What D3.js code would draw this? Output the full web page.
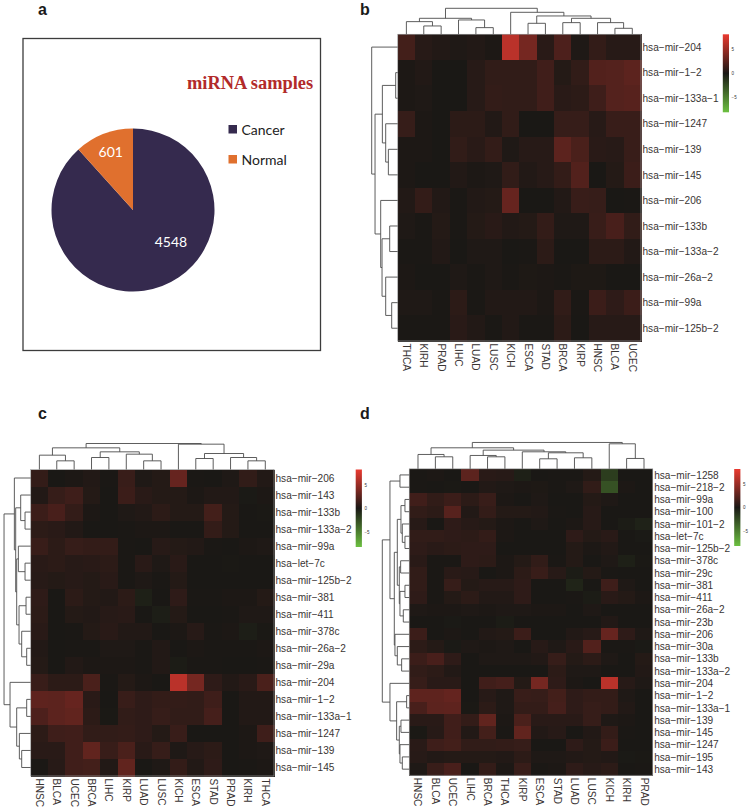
<!DOCTYPE html>
<html>
<head>
<meta charset="utf-8">
<script src="https://cdn.jsdelivr.net/npm/d3@7"></script>
<style>
body { margin:0; background:#fff; }
svg { display:block; }
.rowLabel, .colLabel { font-family:"Liberation Sans",Arial,sans-serif; font-size:10.1px; fill:#3a3534; }
.panelLetter { font-family:"Liberation Sans",Arial,sans-serif; font-size:16px; font-weight:bold; fill:#1a1a1a; }
.tree { fill:none; stroke:#4c4c4c; stroke-width:0.9; }
.cell { shape-rendering:crispEdges; }
</style>
</head>
<body>
<svg id="fig" width="750" height="809"></svg>
<script>
// panel a
var pieNames = ["Cancer","Normal"];
var pieValues = [4548,601];

// panel b
var colsB = ["THCA","KIRH","PRAD","LIHC","LUAD","LUSC","KICH","ESCA","STAD","BRCA","KIRP","HNSC","BLCA","UCEC"];
var rowsB = ["hsa-mir-204","hsa-mir-1-2","hsa-mir-133a-1","hsa-mir-1247","hsa-mir-139","hsa-mir-145","hsa-mir-206","hsa-mir-133b","hsa-mir-133a-2","hsa-mir-26a-2","hsa-mir-99a","hsa-mir-125b-2"];
var valuesB = [
[1.6,.5,.3,.2,.3,.1,6.3,3.6,.6,2.0,.2,1.0,.5,.5],
[.1,.3,0,0,.5,.9,.9,.9,1.5,.4,.9,2.2,2.3,2.6],
[.1,.2,0,0,.5,1,.9,.9,1.5,.6,.7,1.4,2.3,2.4],
[1.1,.1,0,.7,.7,.3,.9,0,0,1.1,1.1,.5,1.2,1.2],
[.1,.1,0,.9,.6,1.0,.2,.5,.5,2.6,1.9,.6,.5,1.2],
[.1,0,0,.3,.1,.2,.9,.3,.5,1.0,2.2,0,.4,1.3],
[.3,1.0,.3,.05,.3,.4,3.0,0,0,.3,1.2,1.1,0,.05],
[.2,.05,.4,.05,.4,.6,.3,.4,1.0,.2,.2,1.2,1.8,.9],
[.05,.05,.3,0,.2,.2,0,.05,.7,0,0,.7,.7,.3],
[.1,0,0,.2,.05,.2,.05,.15,.1,.05,.15,.15,0,0],
[.2,.2,.05,.7,.05,.3,.3,.3,.1,.9,.05,1.3,.8,1.3],
[.05,.05,.05,.6,.3,.05,.3,.05,.05,.7,0,.5,.5,.5]
];
var colTreeB = [78,[48,[38,0,[25,1,2]],[43,3,[20,4,5]]],[66,6,[55,[33,7,8],[48,[35,9,10],[35,11,[18,12,13]]]]]];
var rowTreeB = [78,0,[68,[46,[6,1,2],[36,3,[28,4,5]]],[51,6,[47,[24,7,8],[36,9,[18,10,11]]]]]];

// panel c
var colsC = ["HNSC","BLCA","UCEC","BRCA","LIHC","KIRP","LUAD","LUSC","KICH","ESCA","STAD","PRAD","KIRH","THCA"];
var rowsC = ["hsa-mir-206","hsa-mir-143","hsa-mir-133b","hsa-mir-133a-2","hsa-mir-99a","hsa-let-7c","hsa-mir-125b-2","hsa-mir-381","hsa-mir-411","hsa-mir-378c","hsa-mir-26a-2","hsa-mir-29a","hsa-mir-204","hsa-mir-1-2","hsa-mir-133a-1","hsa-mir-1247","hsa-mir-139","hsa-mir-145"];
var valuesC = [
[1.0,0,.1,.3,.05,1.2,.2,.4,3.0,.05,0,.2,.9,.3],
[.3,1.1,1.4,.4,0,1.3,.6,.4,.4,.1,.3,.3,-.1,.1],
[1.3,1.8,1.0,.1,0,.2,.3,.7,.4,.4,1.6,.4,0,-.05],
[.7,.6,.3,0,0,.05,.1,.1,0,0,1.0,.4,0,0],
[1.2,.7,1.1,1.0,1.0,.05,0,.5,.4,.3,.05,0,.1,.2],
[.6,.7,.5,.6,.7,.05,.6,.2,.6,0,0,-.05,0,0],
[.5,.4,.5,.4,.6,.05,.2,.05,.4,0,0,0,0,0],
[.8,0,.7,.4,.3,.7,-.4,0,.8,.05,.05,.1,.1,.4],
[.7,0,.4,.3,.5,.6,0,-.3,.4,0,0,.05,.2,.2],
[.6,0,.05,.4,.6,.3,.3,0,.1,.5,.05,.1,-.3,-.05],
[.3,0,.05,.05,.2,.2,.05,.3,0,.1,.05,.05,.05,.1],
[.4,0,.3,.1,.1,.1,.05,.3,-.2,.05,.05,0,0,.05],
[1.2,.7,.7,1.9,.05,.4,.1,0,6.3,3.6,.8,.3,.6,1.9],
[2.7,2.6,3.0,.6,0,1.2,.8,1.0,1.0,.9,1.4,0,.3,.3],
[2.0,2.6,2.8,.7,-.05,.9,.8,1.1,.9,.9,1.7,0,.3,.3],
[.7,1.4,1.5,.9,.9,1.0,.8,.4,1.2,0,0,0,.1,1.4],
[.6,.6,1.5,2.8,1.2,1.9,.6,1.1,.2,.5,.7,0,.1,.2],
[.05,.5,1.5,1.6,.3,2.8,0,.2,1.0,.3,.8,0,.05,.1]
];
var colTreeC = [78,[65,[43,0,[26,1,2]],[53,[36,3,4],[46,5,[26,6,7]]]],[76,8,[48,[33,9,10],[36,11,[26,12,13]]]]];
var rowTreeC = [80,[49,0,[45,[30,1,[17,2,3]],[42,[37,4,[17,5,6]],[35,[14,7,8],[27,9,[12,10,11]]]]]],[62,12,[42,[12,13,14],[34,15,[27,16,17]]]]];

// panel d
var colsD = ["HNSC","BLCA","UCEC","LIHC","BRCA","THCA","KIRP","ESCA","STAD","LUAD","LUSC","KICH","KIRH","PRAD"];
var rowsD = ["hsa-mir-1258","hsa-mir-218-2","hsa-mir-99a","hsa-mir-100","hsa-mir-101-2","hsa-let-7c","hsa-mir-125b-2","hsa-mir-378c","hsa-mir-29c","hsa-mir-381","hsa-mir-411","hsa-mir-26a-2","hsa-mir-23b","hsa-mir-206","hsa-mir-30a","hsa-mir-133b","hsa-mir-133a-2","hsa-mir-204","hsa-mir-1-2","hsa-mir-133a-1","hsa-mir-139","hsa-mir-145","hsa-mir-1247","hsa-mir-195","hsa-mir-143"];
var valuesD = [
[.05,.1,0,2.6,.6,.5,-.4,0,.05,.05,.4,-1.8,0,0],
[.05,0,-.05,0,.3,.2,.1,.15,.05,.2,.9,-2.8,.1,0],
[1.5,.9,1.3,.7,1.2,.1,0,.2,0,0,.4,.2,0,0],
[.9,.7,2.4,.3,1.0,.4,.4,.3,.05,0,.5,0,0,0],
[.5,0,.8,.5,.4,.1,0,.2,0,.1,.5,0,-.2,-.5],
[.9,.9,.8,.7,1.0,.1,0,0,0,.8,.4,.6,0,-.1],
[.8,.6,.7,.8,.8,0,0,0,0,.4,.1,.3,0,0],
[.6,.05,.05,.8,.7,.1,.4,.9,.05,.4,0,.2,-.4,-.05],
[.9,.05,.6,.5,0,.1,.7,1.2,.5,-.2,.4,.05,0,0],
[.9,.05,1.1,.4,.5,.5,.8,0,0,-.6,0,1.4,.2,0],
[.8,.05,.4,.7,.3,.3,.8,0,0,.05,-.2,.6,.4,.1],
[.2,.1,.1,.2,.1,.2,.2,.1,.1,0,.2,0,0,0],
[0,0,-.1,0,0,-.2,0,0,0,0,0,.3,0,0],
[1.3,0,.1,0,.3,.4,1.3,0,0,.3,.5,3.0,.8,.2],
[.7,.4,-.1,.2,.1,.2,0,.5,.2,.6,2.2,.05,.05,-.1],
[1.3,1.8,.8,0,.2,.2,.2,.3,1.1,.4,.7,.2,0,.4],
[.9,.7,.3,0,0,0,0,0,.7,.2,.2,0,0,.3],
[1.1,.6,.6,0,1.5,1.7,.4,3.6,.8,.1,0,6.3,.5,.2],
[2.7,2.7,2.9,0,.5,.2,1.2,1.1,1.6,.8,1.0,1.0,.2,0],
[1.8,2.6,2.7,-.05,.7,.2,1.0,1.0,1.7,.8,1.1,1.0,.3,0],
[.6,.6,1.5,1.0,2.8,.1,1.9,.6,.6,.6,1.1,.2,.1,0],
[-.05,.5,1.5,.3,1.6,.05,2.8,.3,.5,0,.3,1.0,.05,0],
[.6,1.4,1.6,.9,.9,1.0,1.1,0,0,.8,.4,1.3,0,0],
[.5,.3,.4,.4,.4,.3,.7,.2,.2,.3,.4,.3,-.1,-.05],
[.2,1.2,1.8,0,1.0,.1,1.2,.05,.1,.8,.5,.7,0,.05]
];
var colTreeD = [79,[63,[43,0,[36,1,2]],[56,[40,3,[36,4,5]],[51,6,[48,[30,7,8],[33,9,10]]]]],[75,11,[31,12,13]]];
var rowTreeD = [81,[58,[28,0,1],[45,[36,[25,[13,2,3],[21,4,[13,5,6]]],[30,[26,7,8],[28,[13,9,10],[18,11,12]]]],[43,13,[36,14,[23,15,16]]]]],[58,17,[38,[8,18,19],[30,[25,20,21],[28,22,[21,23,24]]]]]];

// colour bar ticks, shared by the three heatmaps
var legendTicks = [-5,0,5];

var svg = d3.select("#fig");

var colorScale = d3.scaleLinear()
    .domain([-8.2,0,8.2])
    .range(["#6cc040","#1a1815","#ea3a30"]);

// gradient for the colour bars
var stops = svg.append("defs").append("linearGradient")
    .attr("id","keyGrad")
    .attr("x1",0).attr("y1",1).attr("x2",0).attr("y2",0)
    .selectAll("stop")
    .data(colorScale.domain())
    .enter()
    .append("stop")
    .attr("offset",function(d){ return (d+8.2)/16.4; })
    .attr("stop-color",function(d){ return colorScale(d); });

// nodes are [height,left,right], a plain number is a leaf index
var drawTree = function(target,node,posScale,hScale)
{
    if(typeof node == "number")
    {
        return {pos:posScale(node)+posScale.bandwidth()/2,h:0};
    }
    var a = drawTree(target,node[1],posScale,hScale);
    var b = drawTree(target,node[2],posScale,hScale);
    var h = node[0];
    var points = [[a.pos,a.h],[a.pos,h],[b.pos,h],[b.pos,b.h]];
    target.append("path")
        .classed("tree",true)
        .attr("d",d3.line()
            .x(function(p){ return p[0]; })
            .y(function(p){ return -hScale(p[1]); })(points));
    return {pos:(a.pos+b.pos)/2,h:h};
}

var drawHeatmap = function(p)
{
    var xScale = d3.scaleBand()
        .domain(d3.range(p.cols.length))
        .range([p.left,p.right]);
    var yScale = d3.scaleBand()
        .domain(d3.range(p.rows.length))
        .range([p.top,p.bottom]);
    // values were read in thirds of a pixel, dendrograms have no axis in the figure
    var hScale = d3.scaleLinear().domain([0,81]).range([0,27]);

    var panel = svg.append("g");

    panel.selectAll("g.row")
        .data(p.values)
        .enter()
        .append("g")
        .classed("row",true)
        .attr("transform",function(d,i){ return "translate(0,"+yScale(i)+")"; })
        .selectAll("rect")
        .data(function(d){ return d; })
        .enter()
        .append("rect")
        .classed("cell",true)
        .attr("x",function(d,i){ return xScale(i); })
        .attr("width",xScale.bandwidth()+0.6)
        .attr("height",yScale.bandwidth()+0.6)
        .attr("fill",function(d){ return colorScale(d); });

    panel.append("rect")
        .attr("x",p.left).attr("y",p.top)
        .attr("width",p.right-p.left).attr("height",p.bottom-p.top)
        .attr("fill","none")
        .attr("stroke","#999")
        .attr("stroke-width",0.7);

    panel.selectAll("text.rowLabel")
        .data(p.rows)
        .enter()
        .append("text")
        .classed("rowLabel",true)
        .text(function(d){ return d.replace(/-/g,"\u2212"); })
        .attr("x",p.right+1.5)
        .attr("y",function(d,i){ return yScale(i)+yScale.bandwidth()/2; })
        .attr("dy","0.36em");

    panel.selectAll("text.colLabel")
        .data(p.cols)
        .enter()
        .append("text")
        .classed("colLabel",true)
        .text(function(d){ return d; })
        .attr("transform",function(d,i){
            return "translate("+(xScale(i)+xScale.bandwidth()/2-3.5)+","+(p.bottom+2.5)+") rotate(90)";
        });

    var colG = panel.append("g").attr("transform","translate(0,"+p.top+")");
    drawTree(colG,p.colTree,xScale,hScale);

    // row tree is the same routine, turned on its side
    var rowG = panel.append("g").attr("transform","translate("+p.left+",0) rotate(-90) scale(-1,1)");
    drawTree(rowG,p.rowTree,yScale,hScale);

    // colour bar
    var keyScale = d3.scaleLinear().domain([-8.2,8.2]).range([p.keyBottom,p.keyTop]);
    panel.append("rect")
        .attr("x",p.keyX).attr("y",p.keyTop)
        .attr("width",6.2).attr("height",p.keyBottom-p.keyTop)
        .attr("fill","url(#keyGrad)");
    var keyAxis = d3.axisRight(keyScale)
        .tickValues(legendTicks)
        .tickSize(0)
        .tickPadding(2.5)
        .tickFormat(function(d){ return d<0 ? "\u2212"+(-d) : d; });
    var keyG = panel.append("g")
        .attr("transform","translate("+(p.keyX+6.2)+",0)")
        .call(keyAxis);
    keyG.select(".domain").remove();
    keyG.selectAll("text")
        .style("font-family","Liberation Sans")
        .style("font-size","4.5px")
        .style("fill","#333");
}

drawHeatmap({cols:colsB,rows:rowsB,values:valuesB,colTree:colTreeB,rowTree:rowTreeB,
    left:397.7,right:641,top:34.3,bottom:341,keyX:722.8,keyTop:34.3,keyBottom:112.3});
drawHeatmap({cols:colsC,rows:rowsC,values:valuesC,colTree:colTreeC,rowTree:rowTreeC,
    left:30.7,right:274,top:469.5,bottom:776,keyX:355.7,keyTop:469.5,keyBottom:547});
drawHeatmap({cols:colsD,rows:rowsD,values:valuesD,colTree:colTreeD,rowTree:rowTreeD,
    left:409.3,right:652.7,top:468.8,bottom:775.3,keyX:734.2,keyTop:469,keyBottom:546});

// pie panel
svg.append("rect")
    .attr("x",23).attr("y",38.5)
    .attr("width",297.5).attr("height",312)
    .attr("fill","none")
    .attr("stroke","#3c3c3c")
    .attr("stroke-width",1.3);

var pieColor = d3.scaleOrdinal().domain(pieNames).range(["#352a4e","#e0702e"]);
var pieData = d3.pie().sort(null)(pieValues);
var arc = d3.arc().innerRadius(0).outerRadius(81.5);
var pieG = svg.append("g").attr("transform","translate(133,210)");

pieG.selectAll("path")
    .data(pieData)
    .enter()
    .append("path")
    .attr("d",arc)
    .attr("fill",function(d,i){ return pieColor(pieNames[i]); });

var pieLabelPos = [[38,36.5],[-22.3,-53]];
pieG.selectAll("text")
    .data(pieValues)
    .enter()
    .append("text")
    .text(function(d){ return d; })
    .attr("x",function(d,i){ return pieLabelPos[i][0]; })
    .attr("y",function(d,i){ return pieLabelPos[i][1]; })
    .attr("text-anchor","middle")
    .style("font-family","Lato")
    .style("font-size","14px")
    .style("fill","#fff");

svg.append("text")
    .text("miRNA samples")
    .attr("x",187).attr("y",89)
    .style("font-family","Liberation Serif")
    .style("font-weight","bold")
    .style("font-size","18.4px")
    .style("fill","#b22a2a");

var legend = svg.append("g").attr("transform","translate(228.5,125)");
var entries = legend.selectAll("g")
    .data(pieNames)
    .enter()
    .append("g")
    .attr("transform",function(d,i){ return "translate(0,"+i*30+")"; });
entries.append("rect")
    .attr("width",8.5).attr("height",8.5)
    .attr("fill",function(d){ return pieColor(d); });
entries.append("text")
    .text(function(d){ return d; })
    .attr("x",13).attr("y",10)
    .style("font-family","Lato")
    .style("font-size","14px")
    .style("fill","#222");

// panel letters
var letters = [["a",38,14.5],["b",360,14.5],["c",38,419],["d",360,419]];
svg.selectAll("text.panelLetter")
    .data(letters)
    .enter()
    .append("text")
    .classed("panelLetter",true)
    .text(function(d){ return d[0]; })
    .attr("x",function(d){ return d[1]; })
    .attr("y",function(d){ return d[2]; });
</script>
</body>
</html>
